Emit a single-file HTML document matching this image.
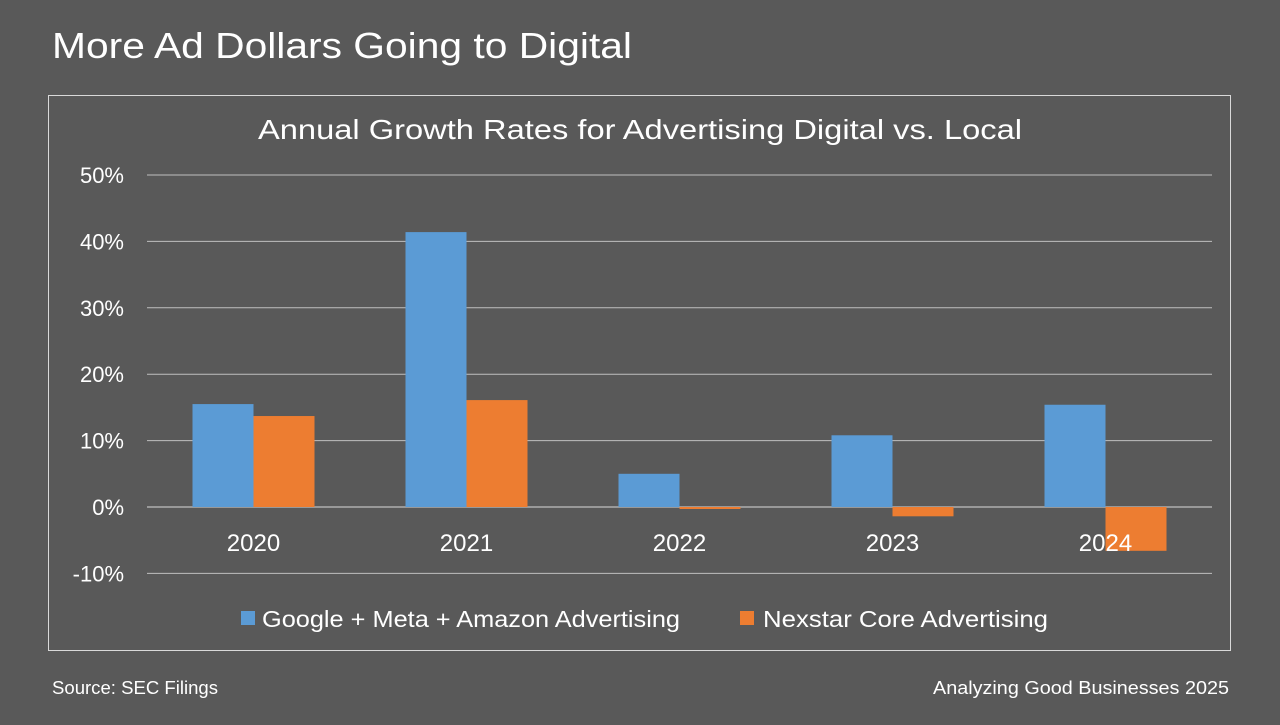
<!DOCTYPE html>
<html><head><meta charset="utf-8"><style>
body{margin:0;width:1280px;height:720px;background:#595959;overflow:hidden;font-family:"Liberation Sans",sans-serif;color:#fff}
</style></head><body>
<svg width="1280" height="720">
<text x="52" y="58" font-size="36" fill="#fff" textLength="580" lengthAdjust="spacingAndGlyphs">More Ad Dollars Going to Digital</text>
<rect x="48.5" y="95.5" width="1182" height="555" fill="none" stroke="#d9d9d9"/>
<text x="258" y="139" font-size="28" fill="#fff" textLength="764" lengthAdjust="spacingAndGlyphs">Annual Growth Rates for Advertising Digital vs. Local</text>
<g id="grid"></g><g id="bars"></g><g id="labels"></g>
<rect x="241" y="611" width="14" height="14" fill="#5b9bd5"/>
<text x="262" y="627" font-size="23" fill="#fff" textLength="418" lengthAdjust="spacingAndGlyphs">Google + Meta + Amazon Advertising</text>
<rect x="740" y="611" width="14" height="14" fill="#ed7d31"/>
<text x="763" y="627" font-size="23" fill="#fff" textLength="285" lengthAdjust="spacingAndGlyphs">Nexstar Core Advertising</text>
<text x="52" y="694" font-size="18" fill="#fff" textLength="166" lengthAdjust="spacingAndGlyphs">Source: SEC Filings</text>
<text x="933" y="694" font-size="18" fill="#fff" textLength="296" lengthAdjust="spacingAndGlyphs">Analyzing Good Businesses 2025</text>
</svg>
<script>
const categories=["2020","2021","2022","2023","2024"];
const digital=[15.5,41.4,5.0,10.8,15.4];
const nexstar=[13.7,16.1,-0.3,-1.4,-6.6];
const ticks=[-10,0,10,20,30,40,50];
const ns="http://www.w3.org/2000/svg";
const x0=147,x1=1212,yv=v=>507-v*6.64;
const bw=(x1-x0)/categories.length;
function mk(t,a,p){const e=document.createElementNS(ns,t);for(const k in a)e.setAttribute(k,a[k]);document.getElementById(p).appendChild(e);return e;}
ticks.forEach(t=>{
 const l=mk("line",{x1:x0,x2:x1,y1:yv(t),y2:yv(t),stroke:t===0?"#d9d9d9":"#bfbfbf","stroke-width":1},"grid");
 
 
 const tx=mk("text",{x:124,y:yv(t)+8,"font-size":22,fill:"#fff","text-anchor":"end"},"labels");
 tx.textContent=t+"%";
 
 
});
categories.forEach((c,i)=>{
 const cx=x0+bw*(i+0.5),w=61;
 [[digital[i],cx-w,"#5b9bd5"],[nexstar[i],cx,"#ed7d31"]].forEach(([v,x,col],j)=>{
  const r=mk("rect",{x:x,y:Math.min(yv(v),yv(0)),width:w,height:Math.abs(yv(v)-yv(0)),fill:col},"bars");
  
  
 });
 const t=mk("text",{x:cx,y:551,"font-size":24,fill:"#fff","text-anchor":"middle"},"labels");
 t.textContent=c;
 
 
});
</script>
</body></html>
